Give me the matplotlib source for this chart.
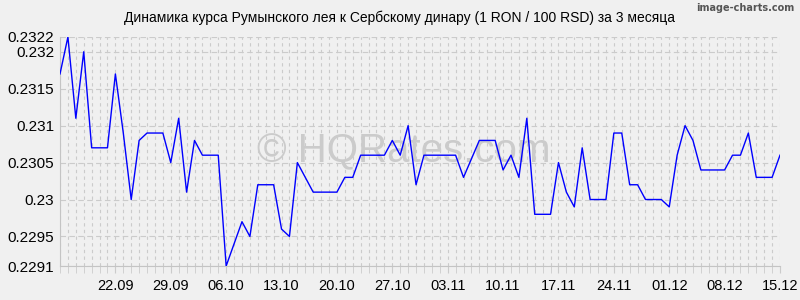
import numpy as np
import matplotlib.pyplot as plt
import matplotlib.dates as mdates

# --- Data: RON per 100 RSD, daily, 15.09 - 15.12 ---
START_DATE = '2020-09-15'
rates = [
    0.2317, 0.2322, 0.2311, 0.2320, 0.2307, 0.2307, 0.2307, 0.2317, 0.2309, 0.2300,
    0.2308, 0.2309, 0.2309, 0.2309, 0.2305, 0.2311, 0.2301, 0.2308, 0.2306, 0.2306,
    0.2306, 0.2291, 0.2294, 0.2297, 0.2295, 0.2302, 0.2302, 0.2302, 0.2296, 0.2295,
    0.2305, 0.2303, 0.2301, 0.2301, 0.2301, 0.2301, 0.2303, 0.2303, 0.2306, 0.2306,
    0.2306, 0.2306, 0.2308, 0.2306, 0.2310, 0.2302, 0.2306, 0.2306, 0.2306, 0.2306,
    0.2306, 0.2303, 0.23055, 0.2308, 0.2308, 0.2308, 0.2304, 0.2306, 0.2303, 0.2311,
    0.2298, 0.2298, 0.2298, 0.2305, 0.2301, 0.2299, 0.2307, 0.2300, 0.2300, 0.2300,
    0.2309, 0.2309, 0.2302, 0.2302, 0.2300, 0.2300, 0.2300, 0.2299, 0.2306, 0.2310,
    0.2308, 0.2304, 0.2304, 0.2304, 0.2304, 0.2306, 0.2306, 0.2309, 0.2303, 0.2303,
    0.2303, 0.2306,
]
dates = np.datetime64(START_DATE) + np.arange(len(rates))

y_ticks = [0.2291, 0.2295, 0.23, 0.2305, 0.231, 0.2315, 0.232, 0.2322]
y_labels = ['0.2291', '0.2295', '0.23', '0.2305', '0.231', '0.2315', '0.232', '0.2322']

title = 'Динамика курса Румынского лея к Сербскому динару (1 RON / 100 RSD) за 3 месяца'

# --- Style ---
BG = '#f0f0f0'
GRID = '#cbcbcb'
plt.rcParams['font.family'] = ['Liberation Sans', 'DejaVu Sans']

fig = plt.figure(figsize=(8, 3), dpi=100, facecolor=BG)
ax = fig.add_axes([0.075, 0.1133, 0.9, 0.7634], facecolor=BG)

# watermark behind the line
ax.text(0.478, 0.5, '© HQRates.com', transform=ax.transAxes, ha='center', va='center',
        fontsize=29, color='#cbcbcb', zorder=0)

ax.plot(dates, rates, color='#0000ff', lw=1.0, zorder=3)

ax.set_xlim(dates[0], dates[-1])
ax.set_ylim(y_ticks[0], y_ticks[-1])

# x axis: weekly labels, a grid line every day
ax.set_xticks(dates[7::7])
ax.xaxis.set_major_formatter(mdates.DateFormatter('%d.%m'))
ax.set_xticks(dates, minor=True)
ax.set_yticks(y_ticks)
ax.set_yticklabels(y_labels)

ax.grid(True, which='both', axis='x', color=GRID, lw=0.8, ls=(0, (3, 3)), zorder=1)
ax.grid(True, which='major', axis='y', color=GRID, lw=0.8, ls=(0, (5, 3)), zorder=1)

ax.tick_params(axis='x', which='both', length=5, color=GRID, labelsize=10.5, pad=4)
ax.tick_params(axis='y', which='both', length=0, labelsize=11, pad=4)

for side in ['top', 'right']:
    ax.spines[side].set_visible(False)
for side in ['left', 'bottom']:
    ax.spines[side].set_color('#c4c4c4')
    ax.spines[side].set_linewidth(0.8)

fig.text(0.5, 0.94, title, ha='center', va='center', fontsize=10)
fig.text(0.993, 0.972, 'image-charts.com', ha='right', va='center', fontsize=7,
         color='#555555', family='DejaVu Sans', weight='bold')

fig.savefig('out.png', dpi=100, facecolor=BG)
